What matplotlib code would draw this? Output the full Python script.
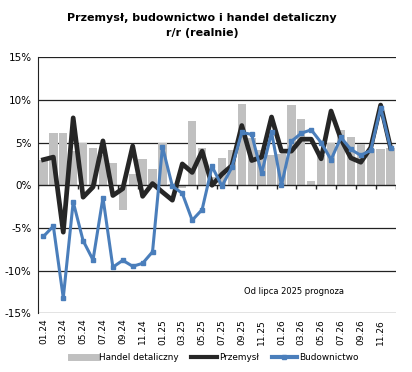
import matplotlib.pyplot as plt
from matplotlib.lines import Line2D
import numpy as np

miesiace = ['01.24', '02.24', '03.24', '04.24', '05.24', '06.24', '07.24', '08.24', '09.24', '10.24', '11.24', '12.24',
            '01.25', '02.25', '03.25', '04.25', '05.25', '06.25', '07.25', '08.25', '09.25', '10.25', '11.25', '12.25',
            '01.26', '02.26', '03.26', '04.26', '05.26', '06.26', '07.26', '08.26', '09.26', '10.26', '11.26', '12.26']

handel = [3.0, 6.1, 6.1, 4.0, 5.0, 4.4, 3.5, 2.6, -2.9, 1.3, 3.1, 1.9,
          4.9, 0.2, -0.3, 7.5, 4.4, 1.0, 3.2, 4.1, 9.5, 5.5, 4.1, 3.5,
          3.7, 9.45, 7.8, 0.5, 3.5, 5.0, 6.5, 5.6, 4.8, 4.3, 4.2, 4.4]

przemysl = [3.0, 3.3, -5.5, 7.9, -1.4, -0.2, 5.2, -1.2, -0.4, 4.6, -1.3, 0.2,
            -0.8, -1.75, 2.5, 1.5, 4.0, 0.0, 1.3, 2.3, 7.0, 2.9, 3.3, 8.0,
            4.0, 4.0, 5.4, 5.4, 3.1, 8.7, 5.4, 3.2, 2.7, 4.4, 9.4, 4.4]

budownictwo = [-6.0, -4.8, -13.2, -1.95, -6.5, -8.75, -1.45, -9.6, -8.8, -9.5, -9.15, -7.8,
               4.5, -0.1, -0.95, -4.1, -2.85, 2.2, -0.1, 2.1, 6.2, 5.95, 1.4, 6.2,
               0.0, 5.15, 6.1, 6.5, 5.0, 3.0, 5.6, 4.2, 3.5, 4.1, 9.1, 4.35]

x = np.arange(len(miesiace))

fig = plt.figure(figsize=(4.12, 3.72), dpi=100)
ax = fig.add_axes([0.0934, 0.158, 0.8666, 0.688])

# siatka pozioma
for y in [15, 10, 5, -5, -10, -15]:
    ax.axhline(y, color='#222222', lw=0.9, zorder=0)

ax.bar(x, handel, width=0.84, color='#c0c0c0', zorder=1)
ax.axhline(0, color='#222222', lw=1.0, zorder=2)
ax.vlines(np.arange(-0.5, 36, 2), 0, -0.45, color='#222222', lw=1.0, zorder=2)

ax.plot(x, przemysl, color='#262626', lw=3.4, zorder=3, solid_joinstyle='round')
ax.plot(x, budownictwo, color='#4a7ebb', lw=2.2, marker='s', markersize=3, zorder=4)

ax.set_xlim(-0.5, 35.5)
ax.set_ylim(-15, 15)
ax.set_yticks([-15, -10, -5, 0, 5, 10, 15])
ax.set_yticklabels(['-15%', '-10%', '-5%', '0%', '5%', '10%', '15%'], fontsize=7.5)
ax.set_xticks(x[::2])
ax.set_xticklabels(miesiace[::2], rotation=90, fontsize=6.5)
ax.tick_params(axis='x', length=0, pad=4)
ax.tick_params(axis='y', length=0, pad=5)
for s in ['top', 'right', 'bottom']:
    ax.spines[s].set_visible(False)
ax.spines['left'].set_color('#222222')

ax.text(25.3, -12.5, 'Od lipca 2025 prognoza', fontsize=6, ha='center', va='center')

fig.text(0.49, 0.952, 'Przemysł, budownictwo i handel detaliczny', fontsize=8,
         fontweight='bold', ha='center', va='center')
fig.text(0.49, 0.91, 'r/r (realnie)', fontsize=8, fontweight='bold', ha='center', va='center')

handles = [Line2D([], [], color='#c0c0c0', lw=5),
           Line2D([], [], color='#262626', lw=3),
           Line2D([], [], color='#4a7ebb', lw=3, marker='s', markersize=3)]
fig.legend(handles, ['Handel detaliczny', 'Przemysł', 'Budownictwo'], loc='center',
           bbox_to_anchor=(0.522, 0.04), ncol=3, frameon=False, fontsize=6.4,
           handlelength=2.9, handletextpad=0.25, columnspacing=1.4)

plt.savefig('out.png', dpi=100)
